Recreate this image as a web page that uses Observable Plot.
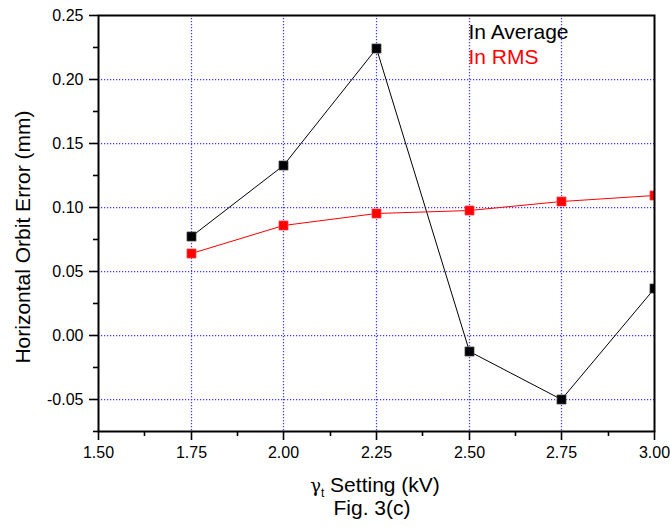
<!DOCTYPE html>
<html><head><meta charset="utf-8">
<script src="https://cdn.jsdelivr.net/npm/d3@7"></script>
<script src="https://cdn.jsdelivr.net/npm/@observablehq/plot@0.6"></script>
<style>body{margin:0;background:#fff;} #chart svg{display:block;}</style>
</head><body><div id="chart"></div>
<script>
const settings = [1.75, 2.0, 2.25, 2.5, 2.75, 3.0];
const avgError = [0.077, 0.133, 0.224, -0.0125, -0.050, 0.037];
const rmsError = [0.064, 0.086, 0.095, 0.098, 0.105, 0.109];
const xTicks = [1.5, 1.75, 2.0, 2.25, 2.5, 2.75, 3.0];
const xMinor = [1.625, 1.875, 2.125, 2.375, 2.625, 2.875];
const xGrid = [1.75, 2.0, 2.25, 2.5, 2.75];
const yTicks = [-0.05, 0, 0.05, 0.1, 0.15, 0.2, 0.25];
const yMinor = [-0.075, -0.025, 0.025, 0.075, 0.125, 0.175, 0.225];
const yGrid = [-0.05, 0, 0.05, 0.1, 0.15, 0.2];
const seriesNames = ["In Average", "In RMS"];
const seriesColors = ["#000000", "#ff0000"];
const yLabel = "Horizontal Orbit Error (mm)";
const caption = "Fig. 3(c)";

const avgData = settings.map((x, i) => ({x, y: avgError[i]}));
const rmsData = settings.map((x, i) => ({x, y: rmsError[i]}));
const fmt = d => d.toFixed(2);
const font = "'Liberation Sans', Arial, sans-serif";

const W = 670, H = 527, ML = 98, MR = 16, MT = 15, MB = 96;

const plot = Plot.plot({
  width: W, height: H,
  marginLeft: ML, marginRight: MR, marginTop: MT, marginBottom: MB,
  style: {fontFamily: font, fontSize: "16px", color: "#000", background: "#fff"},
  x: {domain: [1.5, 3.0], round: true},
  y: {domain: [-0.075, 0.25], round: true},
  marks: [
    Plot.gridX(xGrid, {stroke: "#3a3aff", strokeOpacity: 1, strokeDasharray: "1.2,1.8", strokeWidth: 1.25}),
    Plot.gridY(yGrid, {stroke: "#3a3aff", strokeOpacity: 1, strokeDasharray: "1.2,1.8", strokeWidth: 1.25}),
    Plot.line(avgData, {x: "x", y: "y", stroke: seriesColors[0], strokeWidth: 1}),
    Plot.line(rmsData, {x: "x", y: "y", stroke: seriesColors[1], strokeWidth: 1}),
    Plot.dot(avgData, {x: "x", y: "y", symbol: "square", r: 5.2, fill: seriesColors[0], stroke: "#666", strokeWidth: 0.6, clip: true}),
    Plot.dot(rmsData, {x: "x", y: "y", symbol: "square", r: 5.2, fill: seriesColors[1], stroke: "#ff6060", strokeWidth: 0.6, clip: true}),
    Plot.frame({stroke: "#000", strokeWidth: 2}),
    Plot.axisX(xTicks, {tickSize: 9, tickPadding: 6, tickFormat: fmt, strokeWidth: 1.6, fontSize: 16, label: null}),
    Plot.axisX(xMinor, {tickSize: 5, tickFormat: null, text: null, strokeWidth: 1.6, label: null}),
    Plot.axisY(yTicks, {tickSize: 9, tickPadding: 6, tickFormat: fmt, strokeWidth: 1.6, fontSize: 16, label: null}),
    Plot.axisY(yMinor, {tickSize: 5, tickFormat: null, text: null, strokeWidth: 1.6, label: null}),
    Plot.text([seriesNames[0]], {x: 2.5, y: 0.2365, text: d => d, textAnchor: "start", fill: seriesColors[0], fontSize: 21, lineAnchor: "bottom", dy: 6, dx: -1}),
    Plot.text([seriesNames[1]], {x: 2.5, y: 0.2170, text: d => d, textAnchor: "start", fill: seriesColors[1], fontSize: 21, lineAnchor: "bottom", dy: 6, dx: -1})
  ]
});

const svg = d3.select(plot);
svg.append("text")
  .attr("transform", "translate(22,237) rotate(-90)")
  .attr("text-anchor", "middle").attr("dominant-baseline", "central")
  .attr("font-family", font).attr("font-size", 21).attr("fill", "#000")
  .text(yLabel);
const xl = svg.append("text")
  .attr("x", 375).attr("y", 492)
  .attr("text-anchor", "middle")
  .attr("font-family", font).attr("font-size", 21).attr("fill", "#000");
xl.append("tspan").attr("font-family", "'DejaVu Serif', serif").attr("font-size", 18).text("γ");
xl.append("tspan").attr("font-size", 12).attr("dy", 5).text("t");
xl.append("tspan").attr("dy", -5).text(" Setting (kV)");
svg.append("text")
  .attr("x", 372).attr("y", 515)
  .attr("text-anchor", "middle")
  .attr("font-family", font).attr("font-size", 21).attr("fill", "#000")
  .text(caption);

document.getElementById("chart").appendChild(plot);
</script>
</body></html>
